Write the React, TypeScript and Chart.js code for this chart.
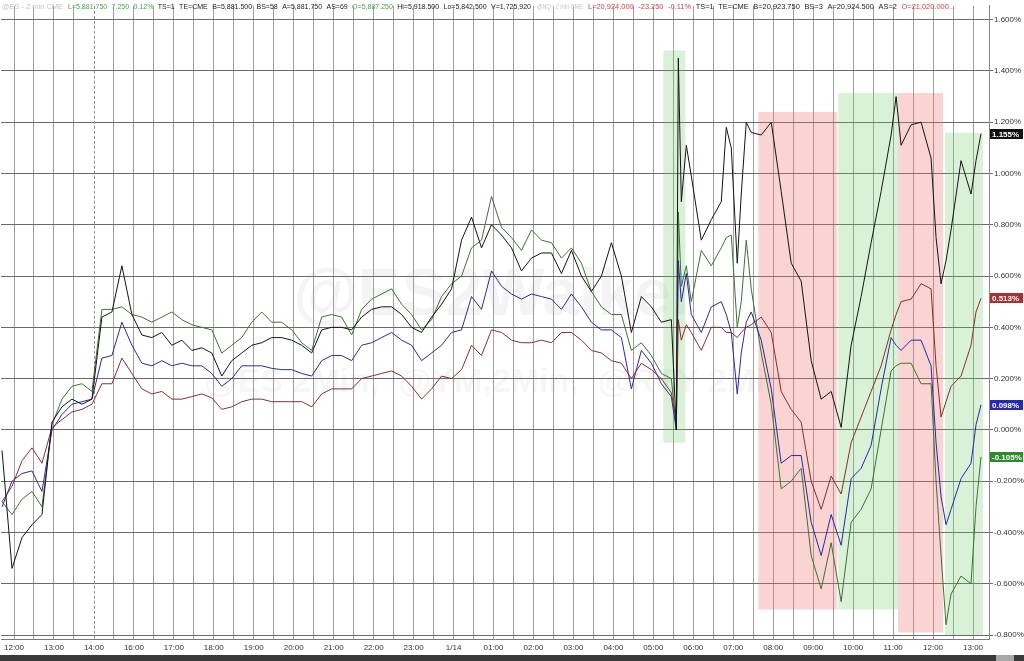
import React, { useEffect, useRef } from 'react';
import { Chart, registerables } from 'chart.js';

Chart.register(...registerables);

// ---- data ----
const X_LABELS = ['12:00', '13:00', '14:00', '16:00', '17:00', '18:00', '19:00', '20:00', '21:00', '22:00', '23:00', '1/14', '01:00', '02:00', '03:00', '04:00', '05:00', '06:00', '07:00', '08:00', '09:00', '10:00', '11:00', '12:00', '13:00'];
const SESSION_BREAK = 2; // dashed line at 14:00
const Y_TICKS = [-0.8, -0.6, -0.4, -0.2, 0, 0.2, 0.4, 0.6, 0.8, 1.0, 1.2, 1.4, 1.6];

// sample times, in label-slot units (0 = first 12:00 label, 1 = next label ...)
const TIMES = [
  -0.3, -0.05, 0.2, 0.45, 0.7, 0.95, 1.2, 1.45, 1.7, 1.95,
  2.2, 2.45, 2.7, 2.95, 3.2, 3.45, 3.7, 3.95, 4.2, 4.45,
  4.7, 4.95, 5.2, 5.45, 5.7, 5.95, 6.2, 6.45, 6.7, 6.95,
  7.2, 7.45, 7.7, 7.95, 8.2, 8.45, 8.7, 8.95, 9.2, 9.45,
  9.7, 9.95, 10.2, 10.45, 10.7, 10.95, 11.2, 11.45, 11.7, 11.95,
  12.2, 12.45, 12.7, 12.95, 13.2, 13.45, 13.7, 13.95, 14.2, 14.45,
  14.7, 14.95, 15.2, 15.45, 15.7, 15.95, 16.2, 16.45, 16.575, 16.625,
  16.7, 16.825, 16.95, 17.2, 17.45, 17.7, 17.825, 17.95, 18.1, 18.2,
  18.325, 18.45, 18.7, 18.95, 19.2, 19.45, 19.7, 19.95, 20.2, 20.45,
  20.7, 20.95, 21.2, 21.45, 21.7, 21.95, 22.075, 22.2, 22.45, 22.7,
  22.95, 23.075, 23.2, 23.325, 23.45, 23.7, 23.95, 24.075, 24.2,
];

const BLACK = [
  -0.08, -0.54, -0.42, -0.37, -0.33, 0.03, 0.09, 0.12, 0.10, 0.12,
  0.44, 0.46, 0.64, 0.45, 0.37, 0.36, 0.38, 0.33, 0.35, 0.31,
  0.32, 0.30, 0.21, 0.27, 0.30, 0.33, 0.34, 0.36, 0.36, 0.35,
  0.33, 0.30, 0.39, 0.40, 0.40, 0.39, 0.44, 0.47, 0.48, 0.48,
  0.45, 0.40, 0.38, 0.44, 0.49, 0.55, 0.74, 0.83, 0.71, 0.80,
  0.76, 0.71, 0.62, 0.67, 0.69, 0.69, 0.61, 0.70, 0.60, 0.54,
  0.60, 0.73, 0.60, 0.38, 0.52, 0.48, 0.42, 0.43, 0.00, 1.45,
  0.89, 1.11, 0.99, 0.74, 0.82, 0.89, 1.18, 1.10, 0.65, 0.92,
  1.20, 1.16, 1.15, 1.20, 0.93, 0.65, 0.58, 0.27, 0.12, 0.15,
  0.01, 0.33, 0.52, 0.73, 0.93, 1.15, 1.30, 1.11, 1.19, 1.20,
  1.06, 0.75, 0.57, 0.66, 0.78, 1.05, 0.92, 1.05, 1.155,
];

const GREEN = [
  -0.28, -0.33, -0.27, -0.24, -0.30, 0.02, 0.12, 0.17, 0.18, 0.15,
  0.47, 0.47, 0.48, 0.45, 0.44, 0.42, 0.44, 0.46, 0.43, 0.41,
  0.40, 0.39, 0.30, 0.33, 0.36, 0.42, 0.46, 0.42, 0.42, 0.39,
  0.34, 0.31, 0.44, 0.45, 0.44, 0.37, 0.47, 0.51, 0.53, 0.55,
  0.49, 0.45, 0.39, 0.43, 0.52, 0.57, 0.60, 0.71, 0.74, 0.91,
  0.79, 0.75, 0.70, 0.78, 0.74, 0.73, 0.67, 0.71, 0.65, 0.54,
  0.48, 0.45, 0.45, 0.31, 0.34, 0.29, 0.22, 0.20, 0.01, 0.85,
  0.56, 0.64, 0.50, 0.70, 0.64, 0.71, 0.75, 0.76, 0.40, 0.50,
  0.74, 0.55, 0.30, 0.10, -0.23, -0.20, -0.15, -0.49, -0.62, -0.44,
  -0.67, -0.36, -0.31, -0.23, 0.00, 0.23, 0.25, 0.26, 0.26, 0.18,
  0.18, -0.20, -0.49, -0.76, -0.64, -0.57, -0.60, -0.30, -0.105,
];

const BLUE = [
  -0.30, -0.20, -0.17, -0.16, -0.24, 0.00, 0.06, 0.10, 0.11, 0.12,
  0.28, 0.29, 0.42, 0.33, 0.26, 0.25, 0.27, 0.25, 0.26, 0.25,
  0.25, 0.22, 0.17, 0.20, 0.25, 0.25, 0.25, 0.24, 0.235, 0.235,
  0.22, 0.21, 0.27, 0.29, 0.29, 0.27, 0.33, 0.34, 0.36, 0.38,
  0.35, 0.33, 0.27, 0.30, 0.33, 0.38, 0.39, 0.52, 0.47, 0.62,
  0.56, 0.53, 0.51, 0.53, 0.52, 0.51, 0.47, 0.53, 0.48, 0.42,
  0.39, 0.39, 0.36, 0.16, 0.31, 0.26, 0.18, 0.13, 0.00, 0.66,
  0.50, 0.61, 0.45, 0.38, 0.48, 0.50, 0.45, 0.38, 0.14, 0.30,
  0.42, 0.46, 0.35, 0.16, -0.13, -0.10, -0.10, -0.36, -0.49, -0.33,
  -0.45, -0.19, -0.15, -0.06, 0.16, 0.36, 0.33, 0.31, 0.35, 0.35,
  0.25, -0.05, -0.26, -0.37, -0.31, -0.19, -0.13, 0.02, 0.098,
];

const RED = [
  -0.28, -0.22, -0.12, -0.07, -0.13, 0.01, 0.04, 0.07, 0.08, 0.10,
  0.18, 0.18, 0.28, 0.22, 0.16, 0.14, 0.15, 0.12, 0.12, 0.13,
  0.14, 0.125, 0.08, 0.09, 0.11, 0.12, 0.12, 0.11, 0.11, 0.11,
  0.11, 0.09, 0.14, 0.16, 0.16, 0.16, 0.20, 0.21, 0.22, 0.23,
  0.21, 0.17, 0.12, 0.16, 0.21, 0.20, 0.235, 0.33, 0.29, 0.39,
  0.38, 0.35, 0.34, 0.34, 0.35, 0.34, 0.38, 0.38, 0.35, 0.31,
  0.30, 0.27, 0.26, 0.20, 0.26, 0.235, 0.20, 0.145, 0.03, 0.43,
  0.35, 0.41, 0.38, 0.31, 0.40, 0.40, 0.38, 0.38, 0.36, 0.38,
  0.40, 0.41, 0.44, 0.38, 0.15, 0.08, 0.03, -0.20, -0.31, -0.18,
  -0.25, -0.05, 0.05, 0.15, 0.25, 0.39, 0.45, 0.50, 0.51, 0.57,
  0.55, 0.25, 0.05, 0.11, 0.17, 0.21, 0.33, 0.46, 0.513,
];

// shaded sessions: x in label-slot units, y in %
const ZONES = [
  { x0: 16.25, x1: 16.8, yLow: -0.05, yHigh: 1.48, kind: 'up' },
  { x0: 18.625, x1: 20.6, yLow: -0.70, yHigh: 1.24, kind: 'down' },
  { x0: 20.625, x1: 22.125, yLow: -0.70, yHigh: 1.314, kind: 'up' },
  { x0: 22.125, x1: 23.25, yLow: -0.79, yHigh: 1.314, kind: 'down' },
  { x0: 23.3, x1: 24.25, yLow: -0.80, yHigh: 1.159, kind: 'up' },
];

const HEADER_LEFT_TAG = '@ES - 2 min CME';
const HEADER_LEFT = [
  ['L=5,881.750', 'up'], ['7.250', 'up'], ['0.12%', 'up'],
  ['TS=1', 'plain'], ['TE=CME', 'plain'], ['B=5,881.500', 'plain'], ['BS=58', 'plain'],
  ['A=5,881.750', 'plain'], ['AS=69', 'plain'], ['O=5,887.250', 'up'], ['Hi=5,918.500', 'plain'],
  ['Lo=5,842.500', 'plain'], ['V=1,725,920', 'plain'],
];
const HEADER_RIGHT_TAG = '@NQ - 2 min CME';
const HEADER_RIGHT = [
  ['L=20,924.000', 'down'], ['-23.250', 'down'], ['-0.11%', 'down'],
  ['TS=1', 'plain'], ['TE=CME', 'plain'], ['B=20,923.750', 'plain'], ['BS=3', 'plain'],
  ['A=20,924.500', 'plain'], ['AS=2', 'plain'], ['O=21,020.000...', 'down'],
];
const WATERMARK = '@ES2Walker';
const WATERMARK_SUB = '@ES 2Min,  @YM,2Min,  @RTY 2Min';

// ---- layout / style (kept apart from the data) ----
const TEXT_COLORS: Record<string, string> = { muted: '#c4c4c4', up: '#45a845', down: '#d84040', plain: '#222' };
const FONT = '"Liberation Sans", Arial, sans-serif';

const SERIES = [
  { name: 'black', values: BLACK, color: '#141414', tag: '#111111' },
  { name: 'red', values: RED, color: '#8a2e2e', tag: '#a83232' },
  { name: 'blue', values: BLUE, color: '#2a2aa0', tag: '#2828b4' },
  { name: 'green', values: GREEN, color: '#3d7236', tag: '#2e8a2e' },
];

const X_GRID = X_LABELS.flatMap((_, i) => [i, i + 0.5]).filter((v) => v <= X_LABELS.length - 1);

function drawRun(ctx: any, items: string[][], x0: number, x1: number, y: number) {
  const gap = 5;
  const widths = items.map(([t]) => ctx.measureText(t).width);
  const total = widths.reduce((a, b) => a + b, 0) + gap * (items.length - 1);
  const k = Math.min(1, (x1 - x0) / total);
  ctx.save();
  ctx.translate(x0, 0);
  ctx.scale(k, 1);
  let cx = 0;
  items.forEach(([t, kind], i) => {
    ctx.fillStyle = TEXT_COLORS[kind];
    ctx.fillText(t, cx, y);
    cx += widths[i] + gap;
  });
  ctx.restore();
}

const decoPlugin = {
  id: 'deco',
  beforeDraw(chart: any) {
    const { ctx, chartArea } = chart;
    ctx.save();
    ctx.fillStyle = '#ffffff';
    ctx.fillRect(0, 0, chart.width, chart.height);
    const cx = (chartArea.left + chartArea.right) / 2;
    const h = chartArea.bottom - chartArea.top;
    ctx.fillStyle = 'rgba(0,0,0,0.045)';
    ctx.textAlign = 'center';
    ctx.textBaseline = 'middle';
    ctx.font = `bold 66px ${FONT}`;
    ctx.fillText(WATERMARK, cx, chartArea.top + h * 0.46);
    ctx.fillStyle = 'rgba(0,0,0,0.035)';
    ctx.font = `bold 34px ${FONT}`;
    ctx.fillText(WATERMARK_SUB, cx, chartArea.top + h * 0.595);
    ctx.restore();
  },
  beforeDatasetsDraw(chart: any) {
    const { ctx, chartArea } = chart;
    const xs = chart.scales.x;
    const ys = chart.scales.y;
    ctx.save();
    for (const z of ZONES) {
      const x0 = xs.getPixelForValue(z.x0);
      const x1 = xs.getPixelForValue(z.x1);
      const y0 = ys.getPixelForValue(z.yHigh);
      const y1 = ys.getPixelForValue(z.yLow);
      ctx.fillStyle = z.kind === 'up' ? 'rgba(110,205,100,0.26)' : 'rgba(240,110,110,0.30)';
      ctx.fillRect(x0, y0, x1 - x0, y1 - y0);
    }
    const bx = Math.round(xs.getPixelForValue(SESSION_BREAK)) + 0.5;
    ctx.strokeStyle = '#8c8c8c';
    ctx.lineWidth = 1;
    ctx.setLineDash([3, 2]);
    ctx.beginPath();
    ctx.moveTo(bx, chartArea.top);
    ctx.lineTo(bx, chartArea.bottom);
    ctx.stroke();
    ctx.restore();
  },
  afterDraw(chart: any) {
    const { ctx, chartArea } = chart;
    const ys = chart.scales.y;
    ctx.save();
    // header
    ctx.font = `8px ${FONT}`;
    ctx.textAlign = 'left';
    ctx.textBaseline = 'alphabetic';
    drawRun(ctx, [[HEADER_LEFT_TAG, 'muted']], 2, 63, 9);
    drawRun(ctx, HEADER_LEFT, 68, 531, 9);
    drawRun(ctx, [[HEADER_RIGHT_TAG, 'muted']], 537, 583, 9);
    drawRun(ctx, HEADER_RIGHT, 588, 955, 9);
    // last value tags
    ctx.font = `bold 8px ${FONT}`;
    ctx.textBaseline = 'middle';
    for (const s of SERIES) {
      const last = s.values[s.values.length - 1];
      const y = Math.round(ys.getPixelForValue(last));
      ctx.fillStyle = s.tag;
      ctx.fillRect(chartArea.right + 1, y - 5, 33, 10);
      ctx.fillStyle = '#ffffff';
      ctx.fillText(last.toFixed(3) + '%', chartArea.right + 3, y + 0.5);
    }
    // bottom scroll bar
    ctx.fillStyle = '#3a3a3a';
    ctx.fillRect(0, chart.height - 6, chart.width, 6);
    ctx.fillStyle = '#a8a8a8';
    ctx.fillRect(chartArea.right + 7, chart.height - 6, 18, 6);
    ctx.restore();
  },
};

export default function App() {
  const ref = useRef<HTMLCanvasElement>(null);
  useEffect(() => {
    document.body.style.margin = '0';
    const canvas = ref.current!;
    const chart = new Chart(canvas, {
      type: 'line',
      data: {
        datasets: SERIES.map((s) => ({
          label: s.name,
          data: TIMES.map((t, i) => ({ x: t, y: s.values[i] })),
          borderColor: s.color,
          borderWidth: 1,
          pointRadius: 0,
          tension: 0,
          fill: false,
        })),
      },
      options: {
        responsive: false,
        animation: false,
        devicePixelRatio: 1,
        layout: { padding: 0 },
        plugins: { legend: { display: false }, tooltip: { enabled: false } },
        scales: {
          x: {
            type: 'linear',
            position: 'bottom',
            min: -0.325,
            max: 24.4,
            afterBuildTicks: (s: any) => {
              s.ticks = X_GRID.map((v) => ({ value: v }));
            },
            afterFit: (s: any) => {
              s.height = 22;
            },
            grid: {
              color: (c: any) => (c.tick && c.tick.value === SESSION_BREAK ? 'rgba(0,0,0,0)' : '#a0a0a0'),
              lineWidth: 1,
              drawTicks: false,
            },
            border: { display: true, color: '#7a7a7a' },
            ticks: {
              autoSkip: false,
              maxRotation: 0,
              minRotation: 0,
              padding: 4,
              color: '#333',
              font: { size: 8, family: FONT },
              callback: (v: any) => (Number.isInteger(v) ? X_LABELS[v] : ''),
            },
          },
          y: {
            type: 'linear',
            position: 'right',
            min: -0.8155,
            max: 1.654,
            afterBuildTicks: (s: any) => {
              s.ticks = Y_TICKS.map((v) => ({ value: v }));
            },
            afterFit: (s: any) => {
              s.width = 35;
            },
            grid: { color: '#6a6a6a', lineWidth: 1, drawTicks: true, tickLength: 4 },
            border: { display: true, color: '#8a8a8a' },
            ticks: {
              padding: 1,
              color: '#333',
              font: { size: 8, family: FONT },
              callback: (v: any) => Number(v).toFixed(3) + '%',
            },
          },
        },
      },
      plugins: [decoPlugin],
    } as any);
    return () => chart.destroy();
  }, []);
  return (
    <div style={{ width: 1024, height: 661, position: 'relative', background: '#fff' }}>
      <canvas ref={ref} width={1024} height={661} style={{ display: 'block', width: 1024, height: 661 }} />
    </div>
  );
}
